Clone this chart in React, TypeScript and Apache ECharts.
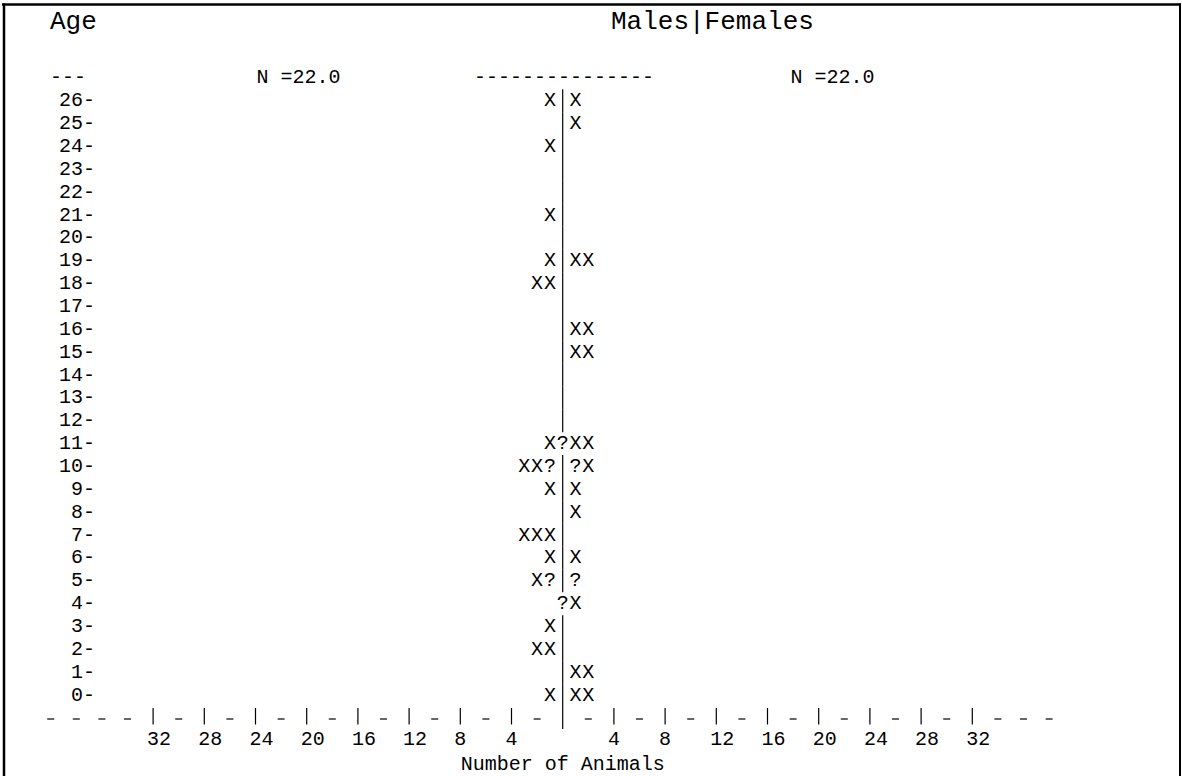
import React, { useEffect, useRef } from "react";
import * as echarts from "echarts";

const FONT = '"Liberation Mono", "DejaVu Sans Mono", monospace';

// Age categories (rows)
const ages = [0, 1, 2, 3, 4, 5, 6, 7, 8, 9, 10, 11, 12, 13, 14, 15, 16, 17, 18, 19, 20, 21, 22, 23, 24, 25, 26];
// Males: full symbols "X" and partial symbols "?" per age
const maleFull = [1, 0, 2, 1, 0, 1, 1, 3, 0, 1, 2, 1, 0, 0, 0, 0, 0, 0, 2, 1, 0, 1, 0, 0, 1, 0, 1];
const malePartial = [0, 0, 0, 0, 0, 1, 0, 0, 0, 0, 1, 0, 0, 0, 0, 0, 0, 0, 0, 0, 0, 0, 0, 0, 0, 0, 0];
// Females
const femaleFull = [2, 2, 0, 0, 1, 0, 1, 0, 1, 1, 1, 2, 0, 0, 0, 2, 2, 0, 0, 2, 0, 0, 0, 0, 0, 1, 1];
const femalePartial = [0, 0, 0, 0, 0, 1, 0, 0, 0, 0, 1, 0, 0, 0, 0, 0, 0, 0, 0, 0, 0, 0, 0, 0, 0, 0, 0];
// "?" drawn on the centre line
const centreMark = [0, 0, 0, 0, 1, 0, 0, 0, 0, 0, 0, 1, 0, 0, 0, 0, 0, 0, 0, 0, 0, 0, 0, 0, 0, 0, 0];

const nMales = 22.0;
const nFemales = 22.0;

// Axis tick values (Number of Animals, mirrored)
const tickValues = [-32, -28, -24, -20, -16, -12, -8, -4, 4, 8, 12, 16, 20, 24, 28, 32];
const leftDashes = [-40, -38, -36, -34];
const rightDashes = [34, 36, 38];

function buildDashes(): number[] {
  const out: number[] = [...leftDashes];
  const all = [...tickValues.filter((t) => t < 0), 0, ...tickValues.filter((t) => t > 0)];
  for (let i = 0; i < all.length - 1; i++) out.push((all[i] + all[i + 1]) / 2);
  return out.concat(rightDashes);
}

export default function App() {
  const ref = useRef<HTMLDivElement>(null);

  useEffect(() => {
    if (!ref.current) return;
    const chart = echarts.init(ref.current, undefined, { renderer: "svg" });

    const rows = ages.map((a, i) => [0, a, maleFull[i], malePartial[i], femaleFull[i], femalePartial[i], centreMark[i]]);
    const axisData = [
      ...buildDashes().map((u) => [u, -1, 0]),
      ...tickValues.map((u) => [u, -1, 1]),
    ];

    const txt = (ch: string, p: number[]) => ({
      type: "text",
      style: {
        text: ch,
        x: p[0],
        y: p[1],
        align: "center",
        verticalAlign: "middle",
        textAlign: "center",
        textVerticalAlign: "middle",
        font: `20px ${FONT}`,
        fill: "#000",
      },
    });

    const option: any = {
      animation: false,
      backgroundColor: "#ffffff",
      grid: { left: 50.7, top: 77.9, width: 1024, height: 640.1, containLabel: false, outerBoundsMode: "none" },
      xAxis: {
        type: "value",
        min: -40,
        max: 40,
        interval: 4,
        offset: 6.5,
        axisLine: { show: false },
        splitLine: { show: false },
        axisTick: { show: false },
        axisLabel: {
          show: true,
          customValues: tickValues,
          formatter: (v: number) => String(Math.abs(v)),
          align: "left",
          padding: [0, 0, 0, -6],
          margin: 5,
          fontFamily: FONT,
          fontSize: 20,
          color: "#000",
        },
        name: "Number of Animals",
        nameLocation: "middle",
        nameGap: 28,
        nameTextStyle: { fontFamily: FONT, fontSize: 20, color: "#000" },
      },
      yAxis: {
        type: "value",
        min: -1,
        max: 27,
        interval: 1,
        offset: -44.3,
        axisLine: { show: false },
        axisTick: { show: false },
        splitLine: { show: false },
        axisLabel: {
          show: true,
          customValues: ages,
          formatter: (v: number) => `${v}-`,
          margin: 0,
          fontFamily: FONT,
          fontSize: 20,
          color: "#000",
        },
      },
      series: [
        {
          type: "custom",
          name: "marks",
          coordinateSystem: "cartesian2d",
          clip: false,
          encode: { x: 0, y: 1 },
          data: rows,
          renderItem: (params: any, api: any) => {
            const age = api.value(1);
            const mX = api.value(2);
            const mQ = api.value(3);
            const fX = api.value(4);
            const fQ = api.value(5);
            const cQ = api.value(6);
            const children: any[] = [];
            for (let k = 0; k < mQ; k++) children.push(txt("?", api.coord([-(k + 1), age])));
            for (let k = 0; k < mX; k++) children.push(txt("X", api.coord([-(mQ + k + 1), age])));
            for (let k = 0; k < fQ; k++) children.push(txt("?", api.coord([k + 1, age])));
            for (let k = 0; k < fX; k++) children.push(txt("X", api.coord([fQ + k + 1, age])));
            if (cQ) {
              children.push(txt("?", api.coord([0, age])));
            } else {
              const top = api.coord([0, age + 0.5]);
              const bot = api.coord([0, age - 0.5]);
              const y2 = age === 0 ? api.coord([0, -1])[1] + 11 : bot[1];
              children.push({
                type: "line",
                shape: { x1: top[0], y1: top[1], x2: top[0], y2 },
                style: { stroke: "#000", lineWidth: 1.2 },
              });
            }
            return { type: "group", children };
          },
        },
        {
          type: "custom",
          name: "axisMarks",
          coordinateSystem: "cartesian2d",
          clip: false,
          encode: { x: 0, y: 1 },
          data: axisData,
          renderItem: (params: any, api: any) => {
            const p = api.coord([api.value(0), api.value(1)]);
            if (api.value(2) === 1) {
              return {
                type: "line",
                shape: { x1: p[0], y1: p[1] - 10, x2: p[0], y2: p[1] + 6.5 },
                style: { stroke: "#000", lineWidth: 1.2 },
              };
            }
            return {
              type: "line",
              shape: { x1: p[0] - 3.5, y1: p[1] + 1, x2: p[0] + 3.5, y2: p[1] + 1 },
              style: { stroke: "#000", lineWidth: 1.2 },
            };
          },
        },
      ],
      graphic: [
        { type: "line", shape: { x1: 2, y1: 4.5, x2: 1181, y2: 4.5 }, style: { stroke: "#000", lineWidth: 2.3 } },
        { type: "line", shape: { x1: 4, y1: 3.5, x2: 4, y2: 776 }, style: { stroke: "#000", lineWidth: 2.5 } },
        { type: "line", shape: { x1: 1180, y1: 3.5, x2: 1180, y2: 776 }, style: { stroke: "#000", lineWidth: 2 } },
        {
          type: "text",
          left: 50,
          top: 9,
          style: { text: "Age", font: `26px ${FONT}`, fill: "#000" },
        },
        {
          type: "text",
          left: 611,
          top: 9,
          style: { text: "Males|Females", font: `26px ${FONT}`, fill: "#000" },
        },
        {
          type: "text",
          x: 50,
          y: 77.8,
          style: { text: "---", font: `20px ${FONT}`, fill: "#000", verticalAlign: "middle", textVerticalAlign: "middle" },
        },
        {
          type: "text",
          x: 256.5,
          y: 77.8,
          style: { text: `N =${nMales.toFixed(1)}`, font: `20px ${FONT}`, fill: "#000", verticalAlign: "middle", textVerticalAlign: "middle" },
        },
        {
          type: "text",
          x: 564,
          y: 77.8,
          style: {
            text: "---------------",
            font: `20px ${FONT}`,
            fill: "#000",
            align: "center",
            textAlign: "center",
            verticalAlign: "middle",
            textVerticalAlign: "middle",
          },
        },
        {
          type: "text",
          x: 790.5,
          y: 77.8,
          style: { text: `N =${nFemales.toFixed(1)}`, font: `20px ${FONT}`, fill: "#000", verticalAlign: "middle", textVerticalAlign: "middle" },
        },
      ],
    };

    chart.setOption(option);
    return () => chart.dispose();
  }, []);

  return (
    <div
      ref={ref}
      style={{ position: "fixed", left: 0, top: 0, width: 1182, height: 776, background: "#fff" }}
    />
  );
}
